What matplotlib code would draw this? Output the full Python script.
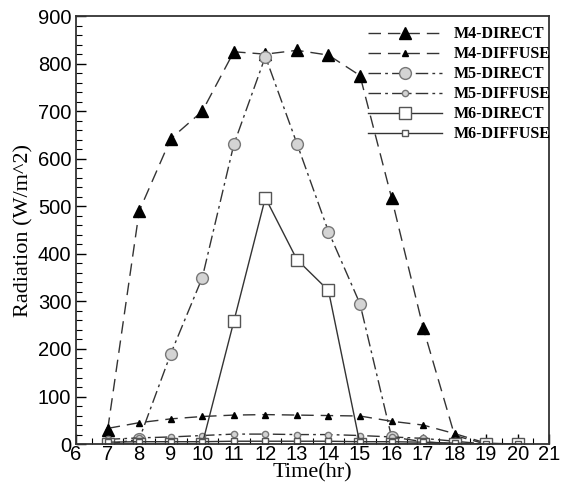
import numpy as np
import matplotlib
matplotlib.use('Agg')
import matplotlib.pyplot as plt
from matplotlib.ticker import MultipleLocator

# data
hours = [7, 8, 9, 10, 11, 12, 13, 14, 15, 16, 17, 18, 19, 20]
m4_direct = [30, 490, 642, 700, 825, 820, 828, 818, 775, 518, 245, 18, 0, 0]
m4_diffuse = [33, 45, 53, 58, 61, 62, 61, 60, 59, 48, 40, 22, 2, 0]
m5_direct = [0, 10, 190, 350, 630, 815, 632, 447, 295, 15, 5, 0, 0, 0]
m5_diffuse = [10, 13, 15, 18, 21, 21, 20, 20, 18, 15, 12, 6, 0, 0]
m6_direct = [0, 0, 0, 0, 258, 518, 388, 323, 0, 0, 0, 0, 0, 0]
m6_diffuse = [4, 5, 5, 5, 6, 6, 6, 6, 5, 5, 4, 2, 0, 0]

fig = plt.figure(figsize=(5.68, 4.88), dpi=100)
ax = fig.add_axes([0.134, 0.09, 0.833, 0.877])

lc = '#333333'
dash = (0, (9, 5))
dashdot = (0, (9, 3, 2, 3))
ax.plot(hours, m4_direct, linestyle=dash, color=lc, lw=1, marker='^', ms=8,
        mfc='black', mec='black', label='M4-DIRECT')
ax.plot(hours, m4_diffuse, linestyle=dash, color=lc, lw=1, marker='^', ms=4.5,
        mfc='black', mec='black', label='M4-DIFFUSE')
ax.plot(hours, m5_direct, linestyle=dashdot, color=lc, lw=1, marker='o', ms=8.5,
        mfc='#d4d4d4', mec='#777777', label='M5-DIRECT')
ax.plot(hours, m5_diffuse, linestyle=dashdot, color=lc, lw=1, marker='o', ms=4.5,
        mfc='#d4d4d4', mec='#777777', label='M5-DIFFUSE')
ax.plot(hours, m6_direct, linestyle='-', color=lc, lw=1, marker='s', ms=8,
        mfc='white', mec='#555555', label='M6-DIRECT')
ax.plot(hours, m6_diffuse, linestyle='-', color=lc, lw=1, marker='s', ms=4.5,
        mfc='white', mec='#555555', label='M6-DIFFUSE')

ax.set_xlim(6, 21)
ax.set_ylim(0, 900)
ax.xaxis.set_major_locator(MultipleLocator(1))
ax.xaxis.set_minor_locator(MultipleLocator(0.5))
ax.yaxis.set_major_locator(MultipleLocator(100))
ax.yaxis.set_minor_locator(MultipleLocator(20))
ax.tick_params(which='both', direction='in', labelsize=14.5)
ax.tick_params(which='major', length=7, width=1)
ax.tick_params(which='minor', length=4, width=0.8)
ax.tick_params(axis='x', pad=1)
for lab in ax.get_xticklabels() + ax.get_yticklabels():
    lab.set_fontfamily('Liberation Sans')
for s in ax.spines.values():
    s.set_linewidth(1.3)
    s.set_color('#333333')

ax.set_xlabel('Time(hr)', family='Liberation Serif', fontsize=16, labelpad=-1)
ax.set_ylabel('Radiation (W/m^2)', family='Liberation Serif', fontsize=16, labelpad=3)

leg = ax.legend(loc='upper right', bbox_to_anchor=(1.02, 0.995), frameon=False,
                handlelength=4.6,
                prop={'family': 'Liberation Serif', 'weight': 'bold', 'size': 11.5},
                labelspacing=0.25, borderaxespad=0.1, handletextpad=0.75)

fig.savefig('out.png', dpi=100)
